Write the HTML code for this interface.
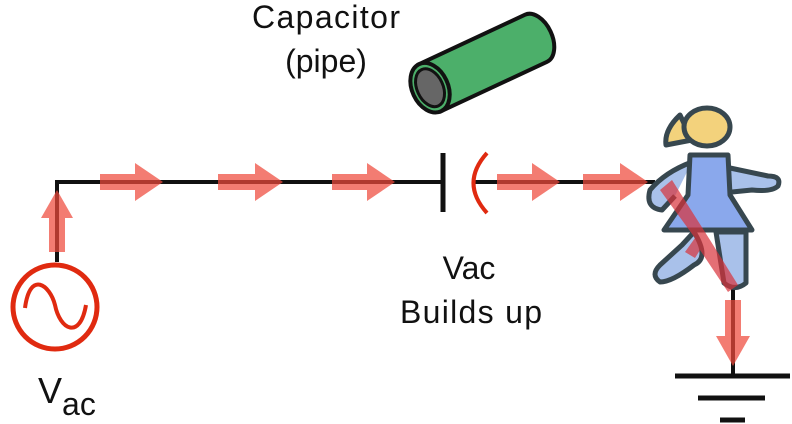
<!DOCTYPE html>
<html><head><style>
html,body{margin:0;padding:0;background:#fff;}
svg{display:block}
text{font-family:"Liberation Sans",sans-serif;fill:#111}
</style></head><body>
<svg width="792" height="424" viewBox="0 0 792 424" xmlns="http://www.w3.org/2000/svg">
<text x="326" y="28" font-size="32" text-anchor="middle" textLength="148">Capacitor</text>
<text x="326" y="72" font-size="32" text-anchor="middle">(pipe)</text>
<text x="469" y="279" font-size="32" text-anchor="middle">Vac</text>
<text x="471" y="323" font-size="32" text-anchor="middle" textLength="142">Builds up</text>
<text x="38" y="403" font-size="36">V<tspan font-size="32" dy="12">ac</tspan></text>
<!-- pipe -->
<g transform="rotate(-25 480 60)">
<path d="M423 38 L540 38 A16 26 0 0 1 540 90 L423 90 Z" fill="#4caf6a" stroke="#111" stroke-width="4"/>
<ellipse cx="423" cy="64" rx="18" ry="26" fill="#4caf6a" stroke="#111" stroke-width="4"/>
<ellipse cx="423" cy="64" rx="13" ry="20" fill="#666" stroke="#111" stroke-width="3"/>
</g>
<!-- wires -->
<g stroke="#111" stroke-width="4" fill="none">
<path d="M57 262 V182 H443"/>
<path d="M443 153 V212" stroke-width="5"/>
<path d="M474 182 H655"/>
<path d="M733 286 V376"/>
<path d="M675 376 H790 M698 398 H765 M720 420 H745" stroke-width="5"/>
</g>
<path d="M487 153 Q460 183 487 213" stroke="#e02a10" stroke-width="4" fill="none"/>
<!-- source -->
<circle cx="55" cy="307" r="42" fill="none" stroke="#e02a10" stroke-width="5"/>
<path d="M25 308 C30 270 50 285 55 305 C60 330 80 340 86 305" stroke="#e02a10" stroke-width="4" fill="none"/>
<!-- person -->
<g stroke="#37474f" stroke-width="5" stroke-linejoin="round" fill="#a9c1ea">
<path d="M680 115 Q664 130 666 145 L692 140 Z" fill="#f3d27c"/>
<ellipse cx="707" cy="127" rx="23" ry="19" fill="#f3d27c"/>
<path d="M692 162 Q665 172 650 190 Q645 208 662 210 L675 196"/>
<path d="M730 168 L768 176 Q782 176 778 186 Q772 192 752 190 L732 192"/>
<path d="M694 232 Q710 258 694 265 Q672 282 660 282 Q650 275 660 265 L682 245 Z"/>
<path d="M716 232 L746 232 L746 283 Q735 292 724 283 Z"/>
<path d="M690 155 L728 155 L730 195 L752 230 L664 230 L688 195 Z" fill="#8aa8ec"/>
</g>
<!-- arrows -->
<g fill="#ee4a3c" fill-opacity="0.72">
<path d="M100 174 H135 V163 L163 182 L135 201 V190 H100 Z"/>
<path d="M218 174 H255 V163 L283 182 L255 201 V190 H218 Z"/>
<path d="M332 174 H367 V163 L395 182 L367 201 V190 H332 Z"/>
<path d="M497 174 H532 V163 L560 182 L532 201 V190 H497 Z"/>
<path d="M583 174 H620 V163 L648 182 L620 201 V190 H583 Z"/>
<path d="M49 252 V218 H41 L57 190 L73 218 H65 V252 Z"/>
<path d="M725 300 V336 H716 L733 366 L750 336 H741 V300 Z"/>
<path d="M660 190 L672 180 L710 240 L738 285 L728 292 L700 250 L695 258 L685 252 L695 238 Z" fill="#d8323a" fill-opacity="0.7"/>
</g>
</svg>
</body></html>
